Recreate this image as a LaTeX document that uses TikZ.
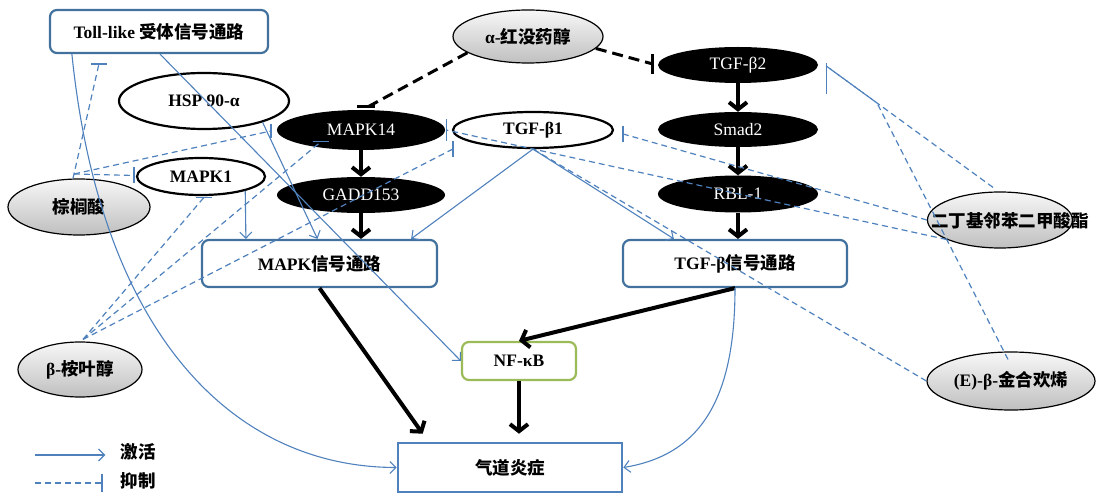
\documentclass[tikz,border=0pt]{standalone}
\usepackage{fontspec}
\setmainfont{Liberation Serif}
\newfontfamily\cjk{Noto Sans CJK SC}
\usetikzlibrary{shapes.geometric,arrows.meta,calc}
\definecolor{lblue}{HTML}{4F81BD}
\definecolor{bblue}{HTML}{41719C}
\definecolor{ngreen}{HTML}{9BBB59}
\newcommand\zh[1]{{\cjk #1}}
\newcommand\fs{\fontsize{17.5}{20}\selectfont}
\newcommand\barV[3][ibar]{\draw[#1] ($(#2)+(0,-#3)$) -- ($(#2)+(0,#3)$);}
\newcommand\barH[3][ibar]{\draw[#1] ($(#2)+(-#3,0)$) -- ($(#2)+(#3,0)$);}
\begin{document}
\begin{tikzpicture}[x=1pt,y=-1pt,
  box/.style={draw=bblue, line width=2.2pt, rounded corners=7pt, fill=white, inner sep=0pt, font=\bfseries\fs},
  grayell/.style={ellipse, draw=black, line width=1.2pt, top color=gray!6, bottom color=gray!50, inner sep=0pt, font=\bfseries\fs},
  blkell/.style={ellipse, fill=black, text=white, inner sep=0pt, font=\fs},
  whtell/.style={ellipse, draw=black, line width=2.2pt, fill=white, inner sep=0pt, font=\bfseries\fs},
  txt/.style={inner sep=0pt, font=\bfseries\fs},
  act/.style={draw=lblue, line width=1.1pt, -{Straight Barb[length=6pt,width=12pt]}},
  inh/.style={draw=lblue, line width=1.2pt, dash pattern=on 6pt off 4pt},
  ibar/.style={draw=lblue, line width=1.4pt},
  karr/.style={draw=black, line width=4pt, -{Straight Barb[length=7pt,width=18pt]}},
  kinh/.style={draw=black, line width=3pt, dash pattern=on 11pt off 6pt},
  kbar/.style={draw=black, line width=3pt}]
\useasboundingbox (0,0) rectangle (1097,494);

% ---------- nodes ----------
\node[box, minimum width=218pt, minimum height=43pt] (toll) at (159,31.5) {Toll-like \zh{受体信号通路}};
\node[grayell, minimum width=150pt, minimum height=53pt] (alpha) at (528,36.5) {α-\zh{红没药醇}};
\node[blkell, minimum width=160pt, minimum height=36pt] (tgfb2) at (738,65) {TGF-β2};
\node[whtell, minimum width=170pt, minimum height=56pt] (hsp) at (204,101) {HSP 90-α};
\node[blkell, minimum width=168pt, minimum height=40pt] (mapk14) at (361,130) {MAPK14};
\node[whtell, minimum width=160pt, minimum height=36pt] (tgfb1) at (533,130) {TGF-β1};
\node[blkell, minimum width=160pt, minimum height=35pt] (smad2) at (738,129.5) {Smad2};
\node[whtell, minimum width=128pt, minimum height=37pt] (mapk1) at (201,176.5) {MAPK1};
\node[grayell, minimum width=142pt, minimum height=56pt] (zl) at (79,207) {\zh{棕榈酸}};
\node[blkell, minimum width=168pt, minimum height=36pt] (gadd) at (361,195) {GADD153};
\node[blkell, minimum width=160pt, minimum height=37pt] (rbl1) at (738,194) {RBL-1};
\node[grayell, minimum width=145pt, minimum height=56pt] (dbp) at (1000,220) {};
\node[txt] (dbptxt) at (1010,221) {\zh{二丁基邻苯二甲酸酯}};
\node[box, minimum width=235pt, minimum height=47pt] (mapkp) at (319.5,263.5) {MAPK\zh{信号通路}};
\node[box, minimum width=224pt, minimum height=47pt] (tgfp) at (735,263.5) {TGF-β\zh{信号通路}};
\node[grayell, minimum width=124pt, minimum height=55pt] (bt) at (80,369.5) {β-\zh{桉叶醇}};
\node[box, draw=ngreen, minimum width=114pt, minimum height=38pt] (nfkb) at (519,361) {NF-κB};
\node[grayell, minimum width=168pt, minimum height=58pt] (ebf) at (1011,381) {(E)-β-\zh{金合欢烯}};
\node[box, draw=lblue, line width=2.6pt, rounded corners=0pt, minimum width=224pt, minimum height=49pt] (air) at (510,467.5) {\zh{气道炎症}};
\node[txt] (lact) at (138,452) {\zh{激活}};
\node[txt] (linh) at (138,481) {\zh{抑制}};

% ---------- coordinates ----------
\coordinate (zlo) at (74,174);
\coordinate (bto) at ($(bt.north)+(3,-2)$);
\coordinate (b-toll) at ($(toll.south west)+(50,10)$);
\coordinate (b-mapk1L) at ($(mapk1.west)+(-2,-1)$);
\coordinate (b-mapk14L) at ($(mapk14.west)+(-6,1)$);
\coordinate (b-mapk1B) at ($(mapk1.south west)+(49,7)$);
\coordinate (b-mapk14B) at ($(mapk14.south west)+(20,-3)$);
\coordinate (b-tgfb1L) at ($(tgfb1.west)+(1,19)$);
\coordinate (b-tgfb1R) at ($(tgfb1.east)+(9,4)$);
\coordinate (b-mapk14R) at ($(mapk14.east)+(1,0)$);
\coordinate (b-tgfb2R) at ($(tgfb2.east)+(8,1)$);
\coordinate (j-tgfb2) at (877,103);
\coordinate (b-a14) at ($(mapk14.north)+(7,-3)$);
\coordinate (b-a2) at ($(tgfb2.west)+(-5,-1)$);

% ---------- thick black ----------
\draw[kinh] (alpha.195) -- (b-a14);
\barH[kbar]{$(b-a14)+(-2,0)$}{9}
\draw[kinh] (alpha.-10) -- (b-a2);
\barV[kbar]{b-a2}{10}
\draw[karr] (mapk14.south) -- (gadd.north);
\draw[karr] (gadd.south) -- (gadd.south |- mapkp.north);
\draw[karr] (tgfb2.south) -- (smad2.north);
\draw[karr] (smad2.south) -- (rbl1.north);
\draw[karr] (rbl1.south) -- (rbl1.south |- tgfp.north);
\draw[karr] (mapkp.south) -- ($(air.north west)+(26,-8)$);
\draw[karr] (tgfp.south) -- (nfkb.north);
\draw[karr] (nfkb.south) -- ($(nfkb.south |- air.north)+(0,-8)$);

% ---------- blue activation ----------
\draw[act] ($(toll.south west)+(23,0)$) .. controls (100,330) and (230,467) .. (air.west);
\draw[act] ($(toll.south)+(1,0)$) -- (nfkb.west);
\draw[act] (hsp.-20) -- ($(mapkp.north)+(-2,0)$);
\draw[act] (mapk1.-18) -- ($(mapkp.north west)+(45,0)$);
\draw[act] (tgfb1.south) -- ($(mapkp.north east)+(-27,0)$);
\draw[act] (tgfb1.south) -- ($(tgfp.north west)+(52,0)$);
\draw[act] (tgfp.south) .. controls (735,400) and (700,455) .. (air.east);

% ---------- blue inhibition ----------
\draw[inh] ($(zl.north)+(-6,0)$) -- (b-toll);
\barH{b-toll}{8}
\draw[inh] (zlo) -- (b-mapk1L);
\barV{b-mapk1L}{8}
\draw[inh] (zlo) -- (b-mapk14L);
\barV{b-mapk14L}{7}
\draw[inh] (bto) -- (b-mapk1B);
\barH{b-mapk1B}{8}
\draw[inh] (bto) -- (b-mapk14B);
\barH{b-mapk14B}{8}
\draw[inh] (bto) -- (b-tgfb1L);
\barV{b-tgfb1L}{8}
\draw[inh] ($(dbp.north)+(-7,-4)$) -- (b-tgfb2R);
\draw[ibar] ($(b-tgfb2R)+(0,-3)$) -- ($(b-tgfb2R)+(0,28)$);
\draw[inh] ($(ebf.north)+(-3,8)$) -- (j-tgfb2) -- (b-tgfb2R);
\draw[inh] (dbp.west) -- (b-tgfb1R);
\barV{b-tgfb1R}{8}
\draw[inh] (dbp.200) -- (b-mapk14R);
\barV{b-mapk14R}{11}
\draw[inh] (ebf.west) -- (tgfb1.south);

% ---------- legend ----------
\coordinate (la1) at (35,455);
\coordinate (li1) at (35,483);
\coordinate (li2) at (101,483);
\draw[act] (la1) -- ($(lact.west)+(-15,3)$);
\draw[inh] (li1) -- (li2);
\barV{$(li2)+(1,0)$}{9}
\end{tikzpicture}
\end{document}
